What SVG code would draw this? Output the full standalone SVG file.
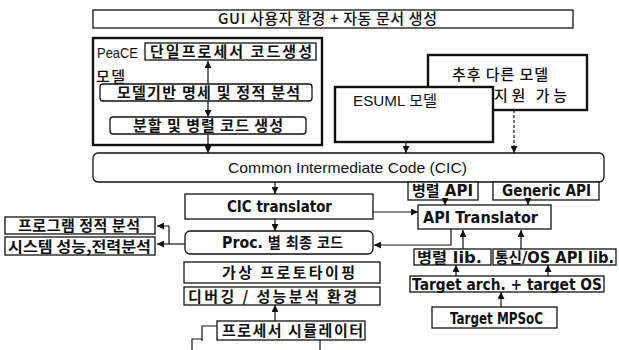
<svg xmlns="http://www.w3.org/2000/svg" width="619" height="350" viewBox="0 0 619 350">
  <style>
    .box { fill: #fff; stroke: #111; stroke-width: 1.3; }
    .thick { fill: #fff; stroke: #111; stroke-width: 2.4; }
    .wire { fill: none; stroke: #111; stroke-width: 1.2; }
    .dash { fill: none; stroke: #111; stroke-width: 1.2; stroke-dasharray: 3 2; }
    text { font-family: "Liberation Sans", "Noto Sans CJK KR", sans-serif; fill: #111; }
    .ko { font-family: "Noto Sans CJK KR", sans-serif; font-size: 15px; font-weight: 700; }
    .kr { font-family: "Noto Sans CJK KR", sans-serif; font-size: 15px; font-weight: 500; }
    .en { font-family: "Liberation Sans", "Noto Sans CJK KR", sans-serif; font-size: 15px; }
    .b { font-family: "DejaVu Sans", "Noto Sans CJK KR", sans-serif; font-size: 15px; font-weight: 700; }
  </style>
  <defs>
    <marker id="arrow" viewBox="0 0 10 10" refX="10" refY="5" markerWidth="7" markerHeight="7" markerUnits="userSpaceOnUse" orient="auto">
      <path d="M0,0 L10,5 L0,10 z" fill="#111"/>
    </marker>
  </defs>
  <rect width="619" height="350" fill="#fff"/>

  <!-- top banner -->
  <g id="gui">
    <rect class="box" x="93" y="10" width="480" height="18"/>
    <text class="kr" x="218" y="24" textLength="219" lengthAdjust="spacing">GUI 사용자 환경 + 자동 문서 생성</text>
  </g>

  <!-- PeaCE model frame with its three stages -->
  <g id="peace">
    <rect class="thick" x="93" y="38" width="229" height="107"/>
    <text class="en" x="97" y="58" font-size="14" textLength="41" lengthAdjust="spacingAndGlyphs">PeaCE</text>
    <text class="kr" x="96" y="82" textLength="29" lengthAdjust="spacing">모델</text>
  </g>
  <g id="single-proc">
    <rect class="box" x="145" y="43" width="171" height="17"/>
    <text class="ko" x="150" y="57" textLength="162" lengthAdjust="spacing">단일프로세서 코드생성</text>
  </g>
  <g id="model-spec">
    <rect class="box" x="100" y="84" width="212" height="17" rx="3"/>
    <text class="ko" x="117" y="98" textLength="183" lengthAdjust="spacing">모델기반 명세 및 정적 분석</text>
  </g>
  <g id="partition">
    <rect class="box" x="110" y="117" width="196" height="17" rx="3"/>
    <text class="ko" x="133" y="131" textLength="150" lengthAdjust="spacing">분할 및 병렬 코드 생성</text>
  </g>

  <!-- other model front-ends -->
  <g id="future-model">
    <rect class="thick" x="428" y="55" width="159" height="55"/>
    <text class="kr" x="452" y="80" textLength="96" lengthAdjust="spacing">추후 다른 모델</text>
    <text class="kr" x="494" y="101" textLength="73" lengthAdjust="spacing">지원 가능</text>
  </g>
  <g id="esuml">
    <rect class="thick" x="335" y="87" width="158" height="55"/>
    <text class="en" x="353" y="106" textLength="84" lengthAdjust="spacingAndGlyphs">ESUML 모델</text>
  </g>

  <!-- common intermediate code -->
  <g id="cic">
    <rect class="box" x="93" y="153" width="511" height="29" rx="5"/>
    <text class="en" x="228" y="173" textLength="239" lengthAdjust="spacingAndGlyphs">Common Intermediate Code (CIC)</text>
  </g>
  <g id="par-api">
    <rect class="box" x="408" y="182" width="70" height="18"/>
    <text class="b" x="412" y="196" font-size="14" textLength="61" lengthAdjust="spacingAndGlyphs">병렬 API</text>
  </g>
  <g id="generic-api">
    <rect class="box" x="493" y="182" width="106" height="18"/>
    <text class="b" x="502" y="196" font-size="14" textLength="89" lengthAdjust="spacingAndGlyphs">Generic API</text>
  </g>
  <g id="cic-translator">
    <rect class="box" x="185" y="194" width="188" height="25"/>
    <text class="b" x="227" y="212" font-size="16" textLength="105" lengthAdjust="spacingAndGlyphs">CIC translator</text>
  </g>
  <g id="api-translator">
    <rect class="box" x="418" y="205" width="133" height="24"/>
    <text class="b" x="423" y="223" font-size="16" textLength="115" lengthAdjust="spacingAndGlyphs">API Translator</text>
  </g>
  <g id="proc-code">
    <rect class="box" x="185" y="231" width="188" height="23" rx="5"/>
    <text class="b" x="222" y="248" textLength="121" lengthAdjust="spacingAndGlyphs">Proc. 별 최종 코드</text>
  </g>

  <!-- analysis outputs -->
  <g id="static-analysis">
    <rect class="box" x="5" y="217" width="150" height="17"/>
    <text class="ko" x="18" y="231" textLength="122" lengthAdjust="spacing">프로그램 정적 분석</text>
  </g>
  <g id="perf-analysis">
    <rect class="box" x="5" y="237" width="150" height="18"/>
    <text class="ko" x="8" y="252" textLength="143" lengthAdjust="spacingAndGlyphs">시스템 성능,전력분석</text>
  </g>

  <!-- libraries and target -->
  <g id="par-lib">
    <rect class="box" x="414" y="249" width="77" height="16"/>
    <text class="b" x="417" y="263" font-size="14" textLength="65" lengthAdjust="spacingAndGlyphs">병렬 lib.</text>
  </g>
  <g id="comm-lib">
    <rect class="box" x="493" y="249" width="123" height="16"/>
    <text class="b" x="495" y="263" font-size="14" textLength="119" lengthAdjust="spacingAndGlyphs">통신/OS API lib.</text>
  </g>
  <g id="target-os">
    <rect class="box" x="410" y="276" width="194" height="16"/>
    <text class="b" x="412" y="290" font-size="16" textLength="190" lengthAdjust="spacingAndGlyphs">Target arch. + target OS</text>
  </g>
  <g id="mpsoc">
    <rect class="box" x="432" y="307" width="125" height="21"/>
    <text class="b" x="450" y="324" font-size="16" textLength="93" lengthAdjust="spacingAndGlyphs">Target MPSoC</text>
  </g>

  <!-- virtual prototyping column -->
  <g id="prototyping">
    <rect class="box" x="184" y="262" width="196" height="21"/>
    <text class="ko" x="222" y="278" font-size="16" textLength="133" lengthAdjust="spacing">가상 프로토타이핑</text>
  </g>
  <g id="debug-env">
    <rect class="box" x="184" y="287" width="196" height="18"/>
    <text class="ko" x="188" y="302" textLength="169" lengthAdjust="spacing">디버깅 / 성능분석 환경</text>
  </g>
  <g id="simulator">
    <path class="wire" d="M217,326 H202 V341 M202,339 H192 V350 M320,340 V350"/>
    <rect class="box" x="217" y="321" width="148" height="19"/>
    <text class="ko" x="222" y="336" textLength="141" lengthAdjust="spacing">프로세서 시뮬레이터</text>
  </g>

  <g id="connectors">
    <line class="wire" x1="208" y1="84" x2="208" y2="61" marker-end="url(#arrow)"/>
    <line class="wire" x1="208" y1="101" x2="208" y2="117" marker-end="url(#arrow)"/>
    <line class="wire" x1="208" y1="134" x2="208" y2="153" marker-end="url(#arrow)"/>
    <line class="wire" x1="406" y1="142" x2="406" y2="153" marker-end="url(#arrow)"/>
    <line class="dash" x1="514" y1="110" x2="514" y2="153" marker-end="url(#arrow)"/>
    <line class="wire" x1="275" y1="182" x2="275" y2="194" marker-end="url(#arrow)"/>
    <line class="wire" x1="275" y1="219" x2="275" y2="231" marker-end="url(#arrow)"/>
    <polyline class="wire" points="185,244 157,244" marker-end="url(#arrow)"/>
    <polyline class="wire" points="169,244 169,226 157,226" marker-end="url(#arrow)"/>
    <line class="wire" x1="373" y1="212" x2="418" y2="212" marker-end="url(#arrow)"/>
    <line class="wire" x1="445" y1="200" x2="445" y2="205" marker-end="url(#arrow)"/>
    <line class="wire" x1="528" y1="200" x2="528" y2="205" marker-end="url(#arrow)"/>
    <polyline class="wire" points="451,229 451,245 374,245" marker-end="url(#arrow)"/>
    <line class="wire" x1="463" y1="249" x2="463" y2="230" marker-end="url(#arrow)"/>
    <line class="wire" x1="521" y1="249" x2="521" y2="230" marker-end="url(#arrow)"/>
    <line class="wire" x1="456" y1="276" x2="456" y2="265" marker-end="url(#arrow)"/>
    <line class="wire" x1="548" y1="276" x2="548" y2="265" marker-end="url(#arrow)"/>
    <line class="wire" x1="501" y1="307" x2="501" y2="292" marker-end="url(#arrow)"/>
    <line class="wire" x1="275" y1="321" x2="275" y2="305" marker-end="url(#arrow)"/>
  </g>
</svg>
